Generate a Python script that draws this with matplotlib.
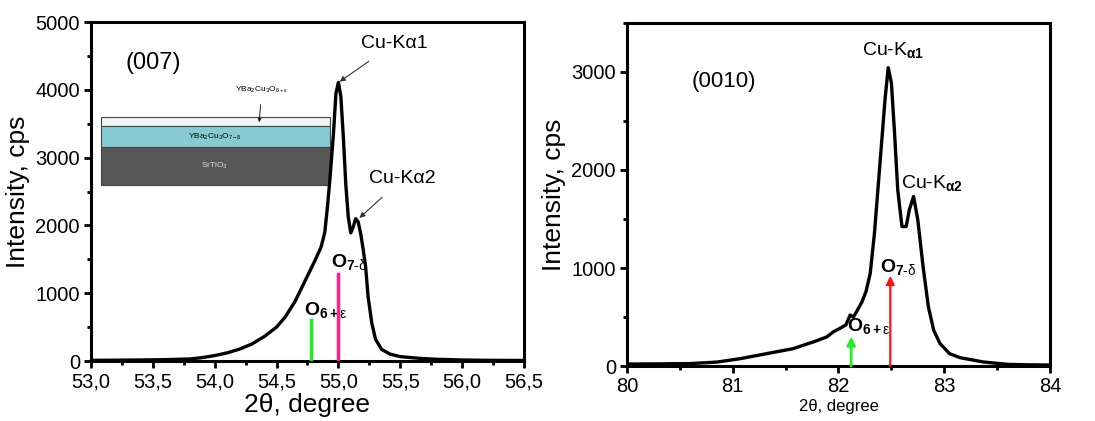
import matplotlib
matplotlib.use("Agg")
import matplotlib.pyplot as plt
from matplotlib.ticker import MultipleLocator, FuncFormatter
from matplotlib.patches import Rectangle

plt.rcParams['font.family'] = ['Liberation Sans', 'DejaVu Sans']
plt.rcParams['mathtext.fontset'] = 'custom'
plt.rcParams['mathtext.rm'] = 'Liberation Sans'
plt.rcParams['mathtext.it'] = 'Liberation Sans:italic'
plt.rcParams['mathtext.bf'] = 'Liberation Sans:bold'

# (007) reflection
theta_007 = [53.0, 53.2, 53.4, 53.6, 53.8, 53.9, 54.0, 54.1, 54.2, 54.3, 54.4, 54.5,
             54.57, 54.65, 54.73, 54.81, 54.86, 54.89, 54.91, 54.93, 54.96, 54.98, 55.00,
             55.02, 55.04, 55.06, 55.08, 55.10, 55.12, 55.14, 55.16, 55.18, 55.20,
             55.22, 55.24, 55.27, 55.30, 55.35, 55.42, 55.50, 55.65, 55.80, 56.0,
             56.2, 56.5]
int_007 = [10, 12, 15, 20, 30, 50, 80, 120, 175, 250, 360, 500,
           650, 880, 1180, 1480, 1680, 1900, 2250, 2650, 3350, 3950, 4110,
           3900, 3300, 2600, 2120, 1890, 1980, 2100, 2050, 1880, 1650,
           1390, 950, 560, 320, 170, 100, 65, 40, 25, 15,
           10, 8]
# (0010) reflection
theta_0010 = [80.0, 80.3, 80.6, 80.85, 81.07, 81.32, 81.57, 81.76, 81.89, 81.95,
              82.01, 82.07, 82.11, 82.14, 82.17, 82.22, 82.26, 82.30, 82.34, 82.39,
              82.44, 82.47, 82.50, 82.53, 82.56, 82.60, 82.64, 82.67, 82.71, 82.75,
              82.80, 82.85, 82.90, 82.96, 83.05, 83.15, 83.37, 83.6, 83.8, 84.0]
int_0010 = [20, 22, 25, 40, 75, 126, 177, 245, 297, 348,
            382, 420, 520, 500, 553, 650, 760, 945, 1355, 2037,
            2720, 3044, 2890, 2380, 1800, 1423, 1423, 1594, 1730, 1490,
            1013, 604, 365, 229, 126, 85, 41, 17, 12, 10]

# phase markers (position, height)
o6_007, o6_007_h = 54.78, 600
o7_007, o7_007_h = 55.00, 1290
o6_0010, o6_0010_h = 82.12, 300
o7_0010, o7_0010_h = 82.49, 920

O7 = r'$\mathbf{O}_{\mathbf{7\text{-}}\mathrm{\delta}}$'
O6 = r'$\mathbf{O}_{\mathbf{6+}\mathrm{\varepsilon}}$'

fig = plt.figure(figsize=(10.95, 4.21), dpi=100)
ax1 = fig.add_axes([0.0831, 0.1425, 0.3954, 0.8052])
ax2 = fig.add_axes([0.5726, 0.1306, 0.3863, 0.8148])

for ax in (ax1, ax2):
    for s in ax.spines.values():
        s.set_linewidth(2.2)
    ax.tick_params(which='major', direction='out', length=5, width=2, labelsize=14.5, pad=3)
    ax.tick_params(which='minor', direction='out', length=3, width=2)
    ax.set_ylabel('Intensity, cps', fontsize=19, labelpad=4)

# left panel
ax1.plot(theta_007, int_007, color='black', lw=2.4, zorder=3)
ax1.plot([o6_007, o6_007], [0, o6_007_h], color='#22ee22', lw=2.5, zorder=4)
ax1.plot([o7_007, o7_007], [0, o7_007_h], color='#ff1f8a', lw=2.5, zorder=4)
ax1.set_xlim(53.0, 56.5)
ax1.set_ylim(0, 5000)
ax1.xaxis.set_major_locator(MultipleLocator(0.5))
ax1.xaxis.set_minor_locator(MultipleLocator(0.25))
ax1.yaxis.set_major_locator(MultipleLocator(1000))
ax1.yaxis.set_minor_locator(MultipleLocator(500))
ax1.xaxis.set_major_formatter(FuncFormatter(lambda v, p: f'{v:.1f}'.replace('.', ',')))
ax1.set_xlabel('2θ, degree', fontsize=19, labelpad=1)

ax1.text(53.5, 4400, '(007)', fontsize=17, ha='center', va='center')
ax1.annotate('Cu-Kα1', xy=(55.01, 4120), xytext=(55.45, 4680),
             fontsize=14, ha='center', va='center',
             arrowprops=dict(arrowstyle='-|>', color='#333333', lw=0.8,
                             mutation_scale=8, shrinkA=8, shrinkB=0))
ax1.annotate('Cu-Kα2', xy=(55.17, 2110), xytext=(55.52, 2690),
             fontsize=14, ha='center', va='center',
             arrowprops=dict(arrowstyle='-|>', color='#333333', lw=0.8,
                             mutation_scale=8, shrinkA=8, shrinkB=0))
ax1.text(54.72, 680, O6, fontsize=14, ha='left', va='baseline')
ax1.text(54.94, 1380, O7, fontsize=14, ha='left', va='baseline')

# film schematic
ax1.add_patch(Rectangle((53.08, 3470), 1.85, 130, facecolor='#f4f4f4', edgecolor='#444444', lw=0.8, zorder=2))
ax1.add_patch(Rectangle((53.08, 3150), 1.85, 320, facecolor='#86cbd3', edgecolor='#444444', lw=0.8, zorder=2))
ax1.add_patch(Rectangle((53.08, 2600), 1.85, 550, facecolor='#575757', edgecolor='#444444', lw=0.8, zorder=2))
ax1.text(54.0, 3310, r'YBa$_2$Cu$_3$O$_{7-\mathrm{\delta}}$', fontsize=6, ha='center', va='center', zorder=3)
ax1.text(54.0, 2880, r'SrTiO$_3$', fontsize=6, ha='center', va='center', color='#dddddd', zorder=3)
ax1.annotate(r'YBa$_2$Cu$_3$O$_{6+\mathrm{\varepsilon}}$', xy=(54.36, 3520), xytext=(54.38, 4000),
             fontsize=6, ha='center', va='center',
             arrowprops=dict(arrowstyle='-|>', color='#222222', lw=0.7,
                             mutation_scale=5, shrinkA=5, shrinkB=0))

# right panel
ax2.plot(theta_0010, int_0010, color='black', lw=2.4, zorder=3)
ax2.annotate('', xy=(o6_0010, o6_0010_h), xytext=(o6_0010, 0),
             arrowprops=dict(arrowstyle='-|>', color='#22ee22', lw=2, mutation_scale=12, shrinkA=0, shrinkB=0), zorder=4)
ax2.annotate('', xy=(o7_0010, o7_0010_h), xytext=(o7_0010, 0),
             arrowprops=dict(arrowstyle='-|>', color='#ff1111', lw=1.6, mutation_scale=12, shrinkA=0, shrinkB=0), zorder=4)
ax2.set_xlim(80, 84)
ax2.set_ylim(0, 3500)
ax2.xaxis.set_major_locator(MultipleLocator(1))
ax2.xaxis.set_minor_locator(MultipleLocator(0.5))
ax2.yaxis.set_major_locator(MultipleLocator(1000))
ax2.yaxis.set_minor_locator(MultipleLocator(500))
ax2.set_xlabel('2θ, degree', fontsize=12, labelpad=2)

ax2.text(80.92, 2900, '(0010)', fontsize=16, ha='center', va='center')
ax2.text(82.52, 3220, r'Cu-K$_{\mathbf{\alpha 1}}$', fontsize=14, ha='center', va='center')
ax2.text(82.88, 1870, r'Cu-K$_{\mathbf{\alpha 2}}$', fontsize=14, ha='center', va='center')
ax2.text(82.39, 960, O7, fontsize=14, ha='left', va='baseline')
ax2.text(82.08, 360, O6, fontsize=14, ha='left', va='baseline')

fig.savefig('out.png', dpi=100)
